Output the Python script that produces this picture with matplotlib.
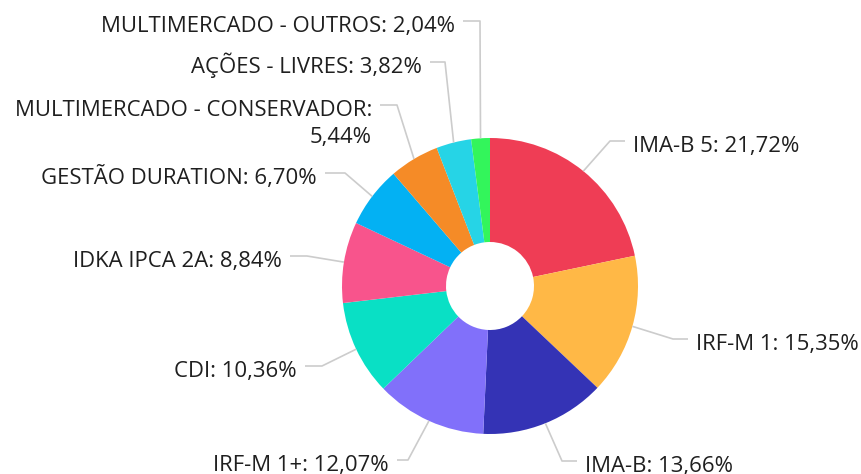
import matplotlib
matplotlib.use("Agg")
import matplotlib.pyplot as plt
import numpy as np

plt.rcParams['font.family'] = ['Open Sans', 'DejaVu Sans']

# dados
categorias = ["IMA-B 5", "IRF-M 1", "IMA-B", "IRF-M 1+", "CDI", "IDKA IPCA 2A",
              "GESTÃO DURATION", "MULTIMERCADO - CONSERVADOR", "AÇÕES - LIVRES",
              "MULTIMERCADO - OUTROS"]
valores = [21.72, 15.35, 13.66, 12.07, 10.36, 8.84, 6.70, 5.44, 3.82, 2.04]
cores = ["#EF3D55", "#FFB846", "#3433B5", "#8170FA", "#09E0C5", "#F8548C",
         "#03B1F3", "#F58B27", "#26D4E6", "#33F55B"]

# layout dos rótulos (pixels, y de cima para baixo): cotovelo x, y, fim da linha x
cotovelos = [(610, 141, 625), (673, 339, 688), (562, 461, 577), (408, 460, 397),
             (322, 366, 305), (307, 256, 290), (345, 173, 325), (397, 105, 380),
             (445, 62, 430), (480, 21, 463)]
# rótulos com quebra de linha
quebra = {"MULTIMERCADO - CONSERVADOR"}

W, H = 861, 474
cx, cy, raio, furo = 490, 286, 148, 44

fig = plt.figure(figsize=(W / 100, H / 100), dpi=100)
ax = fig.add_axes([0, 0, 1, 1])

ax.pie(valores, colors=cores, startangle=90, counterclock=False,
       center=(cx, H - cy), radius=raio,
       wedgeprops=dict(width=raio - furo, linewidth=0))
ax.set_xlim(0, W)
ax.set_ylim(0, H)
ax.axis('off')

total = sum(valores)
acum = 0
for nome, v, (ex, ey, fx) in zip(categorias, valores, cotovelos):
    meio = acum + v / 2
    acum += v
    ang = np.deg2rad(90 - 360 * meio / total)
    sx = cx + raio * np.cos(ang)
    sy = cy - raio * np.sin(ang)
    ax.plot([sx, ex, fx], [H - sy, H - ey, H - ey], color="#cccccc", lw=1.2,
            solid_capstyle='butt')
    direita = fx > ex
    tx = fx + 8 if direita else fx - 8
    ha = 'left' if direita else 'right'
    rotulo = f"{nome}: {v:.2f}%".replace('.', ',')
    if nome in quebra:
        linhas = [nome + ":", f"{v:.2f}%".replace('.', ',')]
    else:
        linhas = [rotulo]
    for i, linha in enumerate(linhas):
        ax.text(tx, H - (ey + 11 + 27 * i), linha, ha=ha, va='baseline',
                fontsize=15.9, color="#1f1f1f")

fig.savefig("out.png", dpi=100)
